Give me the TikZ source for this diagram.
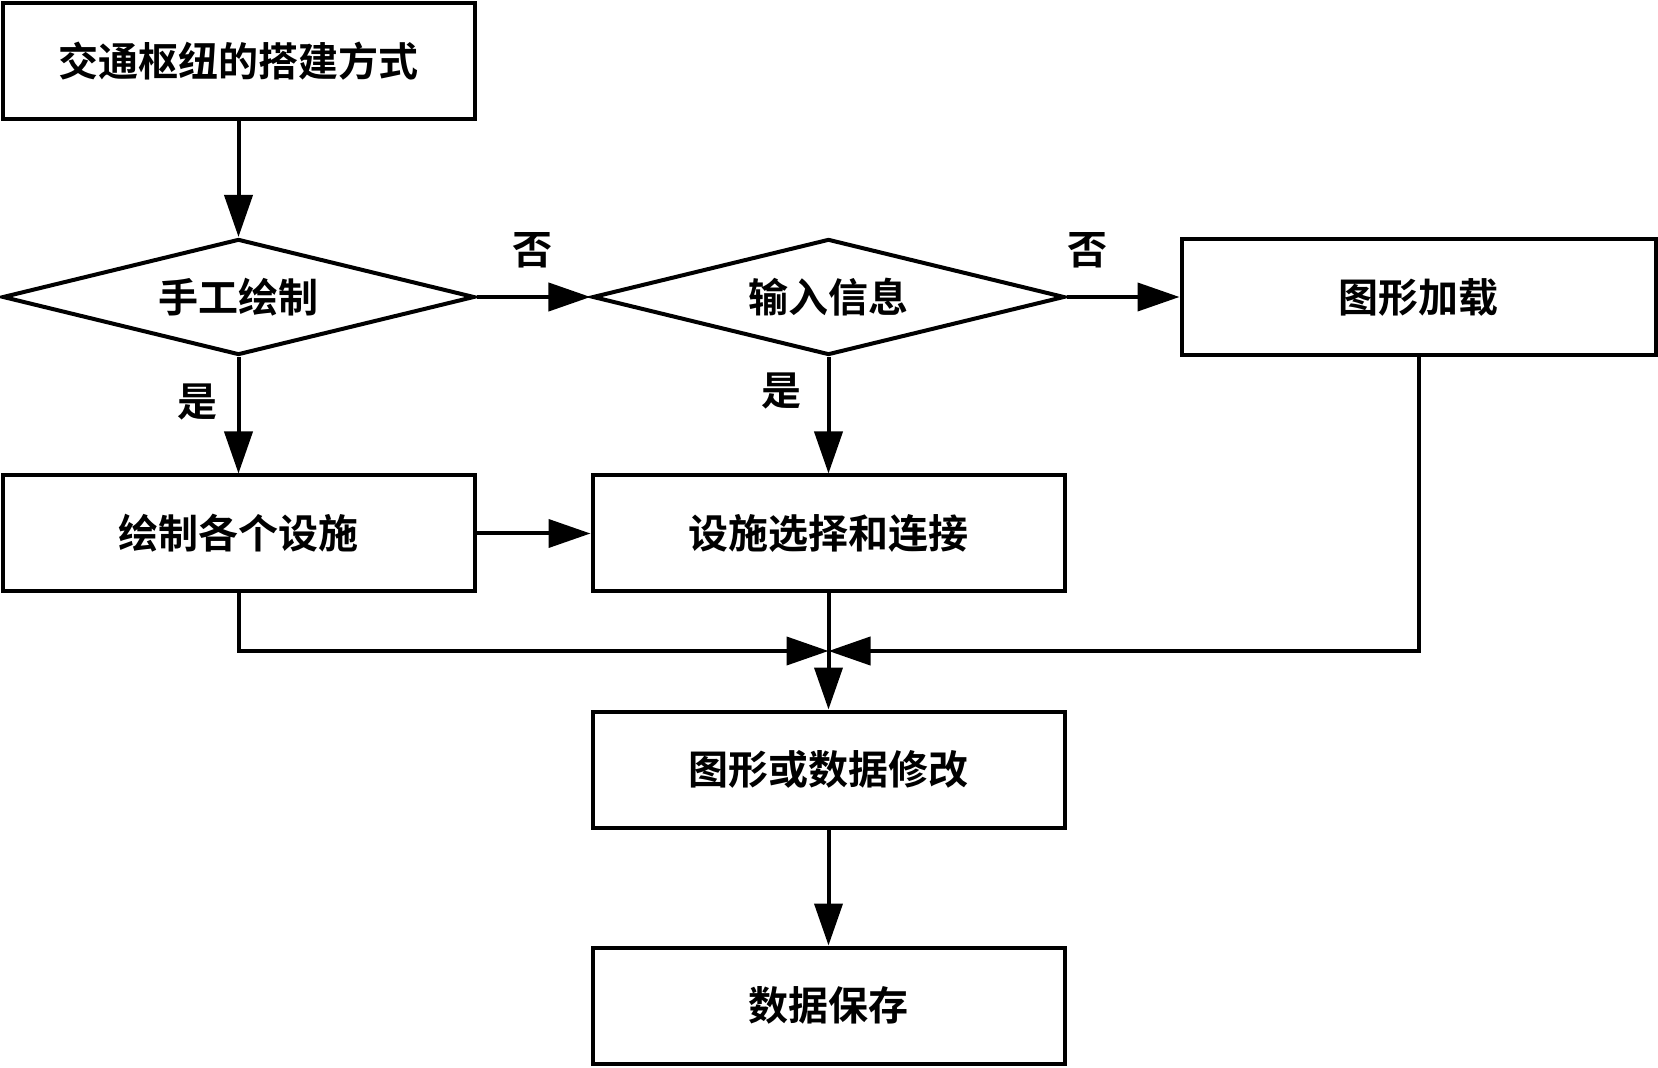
\documentclass[tikz,border=0pt]{standalone}
\usepackage{fontspec}
\setmainfont{Noto Sans CJK SC}[BoldFont={Noto Sans CJK SC Bold}]
\usetikzlibrary{shapes.geometric,arrows.meta}
\tikzset{
  stepbox/.style={draw,line width=2pt,minimum width=236pt,minimum height=58pt,inner sep=0pt,font=\fontsize{20}{24}\selectfont\bfseries},
  choice/.style={draw,diamond,aspect=4,line width=2pt,minimum width=236pt,minimum height=58pt,inner sep=0pt,font=\fontsize{20}{24}\selectfont\bfseries},
  answer/.style={font=\fontsize{20}{24}\selectfont\bfseries},
  link/.style={line width=2pt,-{Triangle[length=21pt,width=14pt]}}
}
\begin{document}
\begin{tikzpicture}[x=0.5pt,y=-0.5pt]
  \useasboundingbox (0,0) rectangle (1658,1068);
  \node[stepbox] (build) at (238.5,61.5) {交通枢纽的搭建方式};
  \node[choice] (hand) at (238.5,297) {手工绘制};
  \node[choice] (info) at (828.5,297) {输入信息};
  \node[stepbox,minimum width=237pt] (load) at (1418.5,297) {图形加载};
  \node[stepbox] (draw) at (238.5,533.5) {绘制各个设施};
  \node[stepbox] (select) at (828.5,533.5) {设施选择和连接};
  \node[stepbox] (edit) at (828.5,769.5) {图形或数据修改};
  \node[stepbox] (save) at (828.5,1005.5) {数据保存};
  \coordinate (join) at (828.5,651);
  \node[answer] (no1) at (532,250) {否};
  \node[answer] (no2) at (1087,250) {否};
  \node[answer] (yes1) at (197,402) {是};
  \node[answer] (yes2) at (781,391) {是};
  \begin{scope}[link]
    \draw (build) -- (hand);
    \draw (hand) -- (info);
    \draw (info) -- (load);
    \draw (hand) -- (draw);
    \draw (info) -- (select);
    \draw (draw) -- (select);
    \draw (draw) |- (join);
    \draw (load) |- (join);
    \draw (select) -- (edit);
    \draw (edit) -- (save);
  \end{scope}
\end{tikzpicture}
\end{document}
